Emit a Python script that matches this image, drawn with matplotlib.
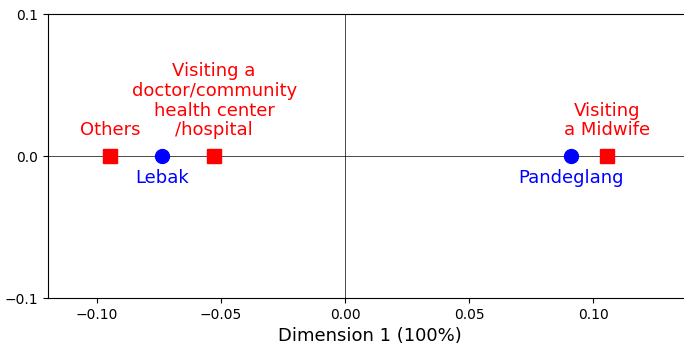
import matplotlib
matplotlib.use('Agg')
import matplotlib.pyplot as plt

# Correspondence analysis: row points (districts) and column points (places of care)
row_labels = ['Lebak', 'Pandeglang']
row_dim1 = [-0.0738, 0.0911]

col_labels = ['Others', 'Visiting a\ndoctor/community\nhealth center\n/hospital',
              'Visiting\na Midwife']
col_dim1 = [-0.0948, -0.0528, 0.1056]

fig = plt.figure(figsize=(6.84, 3.47), dpi=100)
ax = fig.add_axes([48 / 684, 49 / 347, 643 / 684, 284 / 347])

ax.axhline(0, color='black', linewidth=0.5, zorder=1)
ax.axvline(0, color='black', linewidth=0.5, zorder=1)

ax.plot(row_dim1, [0] * len(row_dim1), 'o', color='blue', markersize=10, zorder=3)
ax.plot(col_dim1, [0] * len(col_dim1), 's', color='red', markersize=10, zorder=3)

for x, lab in zip(row_dim1, row_labels):
    ax.annotate(lab, (x, 0), xytext=(0, -9.5), textcoords='offset points',
                ha='center', va='top', color='blue', fontsize=13)
for x, lab in zip(col_dim1, col_labels):
    ax.annotate(lab, (x, 0), xytext=(0, 12), textcoords='offset points',
                ha='center', va='bottom', color='red', fontsize=13,
                multialignment='center', linespacing=1.12)

ax.set_xlim(-0.1198, 0.1395)
ax.set_ylim(-0.1, 0.1)
ax.set_yticks([-0.1, 0.0, 0.1])
ax.set_xticks([-0.10, -0.05, 0.0, 0.05, 0.10])
ax.set_xlabel('Dimension 1 (100%)', fontsize=13)

fig.savefig('out.png', dpi=100)
